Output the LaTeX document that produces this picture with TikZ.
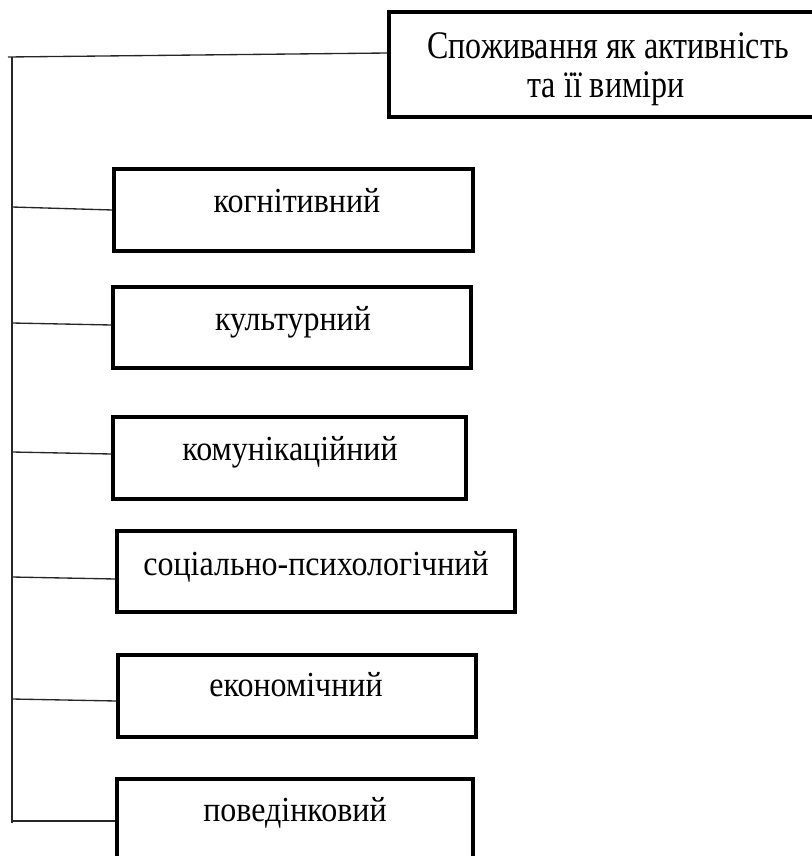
\documentclass[tikz,border=0pt]{standalone}
\usepackage{fontspec}
\usepackage{graphicx}
\setmainfont{Liberation Serif}
\usetikzlibrary{calc}
\newcommand{\tallA}[1]{\scalebox{1}[1.22]{#1}}
\newcommand{\tallB}[1]{\scalebox{1}[1.1]{#1}}
\begin{document}
\begin{tikzpicture}[x=0.75pt,y=-0.75pt,
  box/.style={draw=black,line width=2.3pt,rectangle,inner sep=0pt},
  lbl/.style={inner sep=0pt,anchor=base,font=\fontsize{24pt}{27.75pt}\selectfont},
  conn/.style={draw=black!85,line width=1pt}]
\useasboundingbox (0,0) rectangle (812,856);
% boxes
\node[box,minimum width=434*0.75pt,minimum height=105*0.75pt] (b0) at (606,64.5) {};
\node[box,minimum width=359*0.75pt,minimum height=82*0.75pt] (b1) at (293.5,210) {};
\node[box,minimum width=358*0.75pt,minimum height=81*0.75pt] (b2) at (292,327.5) {};
\node[box,minimum width=353*0.75pt,minimum height=82*0.75pt] (b3) at (289.5,458) {};
\node[box,minimum width=398*0.75pt,minimum height=81*0.75pt] (b4) at (316,571.5) {};
\node[box,minimum width=358*0.75pt,minimum height=82*0.75pt] (b5) at (297,696) {};
\node[box,minimum width=356*0.75pt,minimum height=82*0.75pt] (b6) at (295,820) {};
% labels
\node[lbl] (t0a) at (608,59) {\tallA{Споживання як активність}};
\node[lbl] (t0b) at (606,98) {\tallA{та її виміри}};
\node[lbl] (t1) at (297,212) {\tallB{когнітивний}};
\node[lbl] (t2) at (293,330) {\tallB{культурний}};
\node[lbl] (t3) at (290,460) {\tallB{комунікаційний}};
\node[lbl] (t4) at (316,575) {\tallB{соціально-психологічний}};
\node[lbl] (t5) at (296,696) {\tallB{економічний}};
\node[lbl] (t6) at (295,821) {\tallB{поведінковий}};
% trunk
\coordinate (h0) at (8,57);
\coordinate (top) at (12,57);
\coordinate (bot) at (12,823);
\coordinate (j1) at (12,207);
\coordinate (j2) at (12,323);
\coordinate (j3) at (12,452);
\coordinate (j4) at (12,577);
\coordinate (j5) at (12,699);
\coordinate (j6) at (13,821);
\draw[conn] (h0) -- ($(b0.west)+(0,-11.5)$);
\draw[conn] (top) -- (bot);
\draw[conn] (j1) -- (b1.west);
\draw[conn] (j2) -- ($(b2.west)+(0,-2.5)$);
\draw[conn] (j3) -- ($(b3.west)+(0,-4)$);
\draw[conn] (j4) -- ($(b4.west)+(0,7.5)$);
\draw[conn] (j5) -- ($(b5.west)+(0,5)$);
\draw[conn] (j6) -- ($(b6.west)+(0,1)$);
\end{tikzpicture}
\end{document}
